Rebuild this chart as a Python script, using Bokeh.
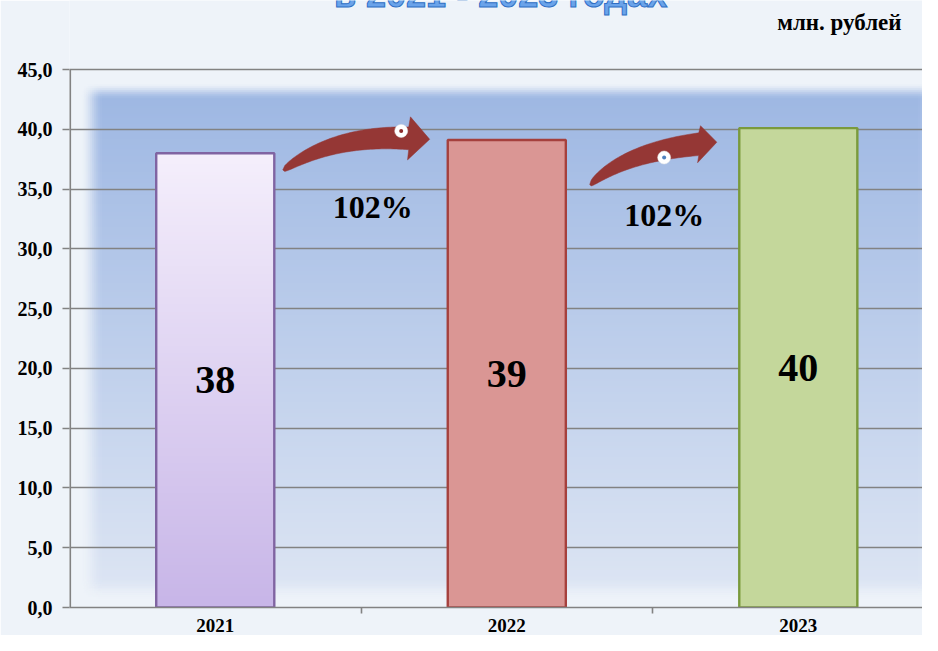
import numpy as np
from bokeh.plotting import figure
from bokeh.models import Range1d, FixedTicker, ColumnDataSource, CustomJSTickFormatter
from bokeh.core.properties import value
from bokeh.embed import file_html
from bokeh.resources import INLINE

# ---------------- data ----------------
years = ["2021", "2022", "2023"]
amounts = [38.0, 39.1, 40.1]
amount_labels = ["38", "39", "40"]
growth_labels = ["102%", "102%"]
y_ticks = [0, 5, 10, 15, 20, 25, 30, 35, 40, 45]
unit_label = "млн. рублей"
title_tail = "в 2021 - 2023 годах"

# ---------------- style / layout ----------------
SERIF = "Liberation Serif"
W, H = 922, 635
BAR_W = 0.405
X_END = 2.926
Y_MAX = 45
PX_PER_UNIT = (607 - 69) / Y_MAX          # frame spans the full height above the axis
Y_TOP = Y_MAX + 69 / PX_PER_UNIT
PAGE_BG = "#eef3f9"
GRID = "#828282"
ARROW_COLOR = "#953735"
bar_fill = ["#e0d3f1", "#da9694", "#c4d79b"]
bar_fill_alpha = [0.0, 1.0, 1.0]
bar_line = ["#8064a2", "#a5403d", "#7a9a3c"]

xs = [i + 0.5 for i in range(len(years))]

p = figure(width=W, height=H, output_backend="svg", toolbar_location=None,
           x_range=Range1d(0, X_END), y_range=Range1d(0, Y_TOP),
           min_border_left=69, min_border_right=0, min_border_top=0,
           min_border_bottom=28)
p.border_fill_color = PAGE_BG
p.background_fill_color = PAGE_BG
p.outline_line_color = None


def smooth(a):
    a = np.clip(a, 0, 1)
    return a * a * (3 - 2 * a)


def gradient_rgba(rows, cols, top_rgb, bottom_rgb, alpha):
    img = np.empty((rows, cols), dtype=np.uint32)
    v = img.view(dtype=np.uint8).reshape((rows, cols, 4))
    t = np.linspace(0, 1, rows)[:, None]  # 0 bottom, 1 top
    for k in range(3):
        v[:, :, k] = (bottom_rgb[k] + (top_rgb[k] - bottom_rgb[k]) * t).astype(np.uint8)
    v[:, :, 3] = (255 * alpha).astype(np.uint8)
    return img


# blurred blue backdrop inside the plot area (decoration)
bx0, bx1, by0, by1 = 0.035, 2.99, 0.55, 43.85
rows, cols = 270, 440
X = np.linspace(bx0, bx1, cols)[None, :]
Y = np.linspace(by0, by1, rows)[:, None]
alpha = (smooth((X - bx0) / 0.075) * smooth((bx1 - X) / 0.08) *
         smooth((Y - by0) / 1.8) * smooth((by1 - Y) / 1.3))
bg_img = gradient_rgba(rows, cols, (157, 183, 227), (222, 230, 244), alpha)
r_bg = p.image_rgba(image=[bg_img], x=bx0, y=by0, dw=bx1 - bx0, dh=by1 - by0)
r_bg.level = "image"

# grid
p.xgrid.grid_line_color = None
p.ygrid.ticker = FixedTicker(ticks=y_ticks)
p.ygrid.grid_line_color = GRID
p.ygrid.grid_line_width = 1.6
p.ygrid.level = "underlay"

# y axis line only up to the top tick
p.segment(x0=[0], y0=[min(y_ticks)], x1=[0], y1=[max(y_ticks)], line_color=GRID,
          line_width=3.2)

# gradient fill for the first bar
bar1_img = gradient_rgba(120, 1, (245, 239, 252), (200, 182, 232), np.ones((120, 1)))
p.image_rgba(image=[bar1_img], x=xs[0] - BAR_W / 2, y=0, dw=BAR_W, dh=amounts[0])

src = ColumnDataSource(dict(x=xs, top=amounts, fill=bar_fill, fa=bar_fill_alpha,
                            line=bar_line, lab=amount_labels,
                            ymid=[a / 2 for a in amounts]))
p.vbar(x="x", top="top", width=BAR_W, bottom=0, source=src, fill_color="fill",
       fill_alpha="fa", line_color="line", line_width=2.4)

p.text(x="x", y="ymid", text="lab", source=src, text_font=value(SERIF),
       text_font_style="bold", text_font_size="40px", text_align="center",
       text_baseline="middle", text_color="black")

# curved growth arrows between bars
arrow_shapes = [
    dict(tail=(0.029, -1.40), tip=(-0.062, 0.06), head_len=0.072, head_rise=0.08,
         head_half=1.8, ctrl=(0.40, 1.12), body_half=0.95,
         handle_t=0.95, handle_dy=0.6, handle_dot="#8b2b2b", label_dy=-4.5),
    dict(tail=(0.082, -3.71), tip=(-0.077, -1.18), head_len=0.062, head_rise=-0.17,
         head_half=1.55, ctrl=(0.32, 0.80), body_half=0.95,
         handle_t=0.75, handle_dy=-0.65, handle_dot="#4f81bd", label_dy=-6.26),
]

px, py, hx, hy, hdot, gx, gy = [], [], [], [], [], [], []
for i, s in enumerate(arrow_shapes):
    R = xs[i] + BAR_W / 2
    L = xs[i + 1] - BAR_W / 2
    tail = (R + s["tail"][0], amounts[i] + s["tail"][1])
    tip = (L + s["tip"][0], amounts[i + 1] + s["tip"][1])
    base = (tip[0] - s["head_len"], tip[1] + s["head_rise"])
    ctrl = (tail[0] + s["ctrl"][0] * (base[0] - tail[0]),
            tail[1] + s["ctrl"][1] * (base[1] - tail[1]))
    t = np.linspace(0, 1, 50)
    bxs = (1 - t) ** 2 * tail[0] + 2 * t * (1 - t) * ctrl[0] + t ** 2 * base[0]
    bys = (1 - t) ** 2 * tail[1] + 2 * t * (1 - t) * ctrl[1] + t ** 2 * base[1]
    h = s["body_half"] * t ** 0.35
    xs_poly = list(bxs) + [base[0] + 0.006, tip[0], base[0] - 0.004] + list(bxs[::-1])
    ys_poly = (list(bys + h) + [base[1] + s["head_half"], tip[1], base[1] - s["head_half"]]
               + list((bys - h)[::-1]))
    px.append(xs_poly)
    py.append(ys_poly)
    th = s["handle_t"]
    hx.append((1 - th) ** 2 * tail[0] + 2 * th * (1 - th) * ctrl[0] + th ** 2 * base[0])
    hy.append((1 - th) ** 2 * tail[1] + 2 * th * (1 - th) * ctrl[1] + th ** 2 * base[1]
              + s["handle_dy"])
    hdot.append(s["handle_dot"])
    gx.append((xs[i] + xs[i + 1]) / 2 + 0.04)
    gy.append(amounts[i] + s["label_dy"])

p.patches(xs=px, ys=py, fill_color=ARROW_COLOR, line_color=ARROW_COLOR, line_width=0.5)
p.scatter(x=hx, y=hy, size=13, fill_color="white", line_color="#e8e8e8", line_width=0.5)
p.scatter(x=hx, y=hy, size=4, fill_color=hdot, line_color=None)

p.text(x=gx, y=gy, text=growth_labels, text_font=value(SERIF), text_font_style="bold",
       text_font_size="32px", text_align="center", text_baseline="alphabetic",
       text_color="black")

# unit caption (top right) and the bottom edge of the cut-off title
p.text(x=[2.854], y=[Y_MAX + (69 - 22) / PX_PER_UNIT], text=[unit_label],
       text_font=value(SERIF), text_font_style="bold", text_font_size="23px",
       text_align="right", text_baseline="middle", text_color="black")
p.text(x=[(332 + 668) / 2 / 291.5 - 69 / 291.5], y=[Y_MAX + (69 + 6) / PX_PER_UNIT],
       text=[title_tail], text_font=value("Liberation Sans"), text_font_style="bold",
       text_font_size="36px", text_align="center", text_baseline="alphabetic",
       text_color="#6aa3ea", text_outline_color="#2f6fc4")

# axes
p.yaxis.ticker = FixedTicker(ticks=y_ticks)
p.yaxis.formatter = CustomJSTickFormatter(code="return tick.toFixed(1).replace('.', ',');")
p.yaxis.axis_line_color = None
p.yaxis.major_tick_line_color = GRID
p.yaxis.major_tick_line_width = 1.6
p.yaxis.major_tick_out = 7
p.yaxis.major_tick_in = 0
p.yaxis.minor_tick_line_color = None
p.yaxis.major_label_standoff = 10
p.yaxis.major_label_text_font = SERIF
p.yaxis.major_label_text_font_style = "bold"
p.yaxis.major_label_text_font_size = "20px"
p.yaxis.major_label_text_color = "black"

p.xaxis.ticker = FixedTicker(ticks=xs, minor_ticks=list(range(1, len(years))))
p.xaxis.major_label_overrides = {x: y for x, y in zip(xs, years)}
p.xaxis.axis_line_color = GRID
p.xaxis.axis_line_width = 1.6
p.xaxis.major_tick_out = 0
p.xaxis.major_tick_in = 0
p.xaxis.minor_tick_line_color = GRID
p.xaxis.minor_tick_line_width = 1.6
p.xaxis.minor_tick_out = 6
p.xaxis.minor_tick_in = 0
p.xaxis.major_label_standoff = 5
p.xaxis.major_label_text_font = SERIF
p.xaxis.major_label_text_font_style = "bold"
p.xaxis.major_label_text_font_size = "19px"
p.xaxis.major_label_text_color = "black"

open("out.html", "w").write(file_html(p, INLINE))
